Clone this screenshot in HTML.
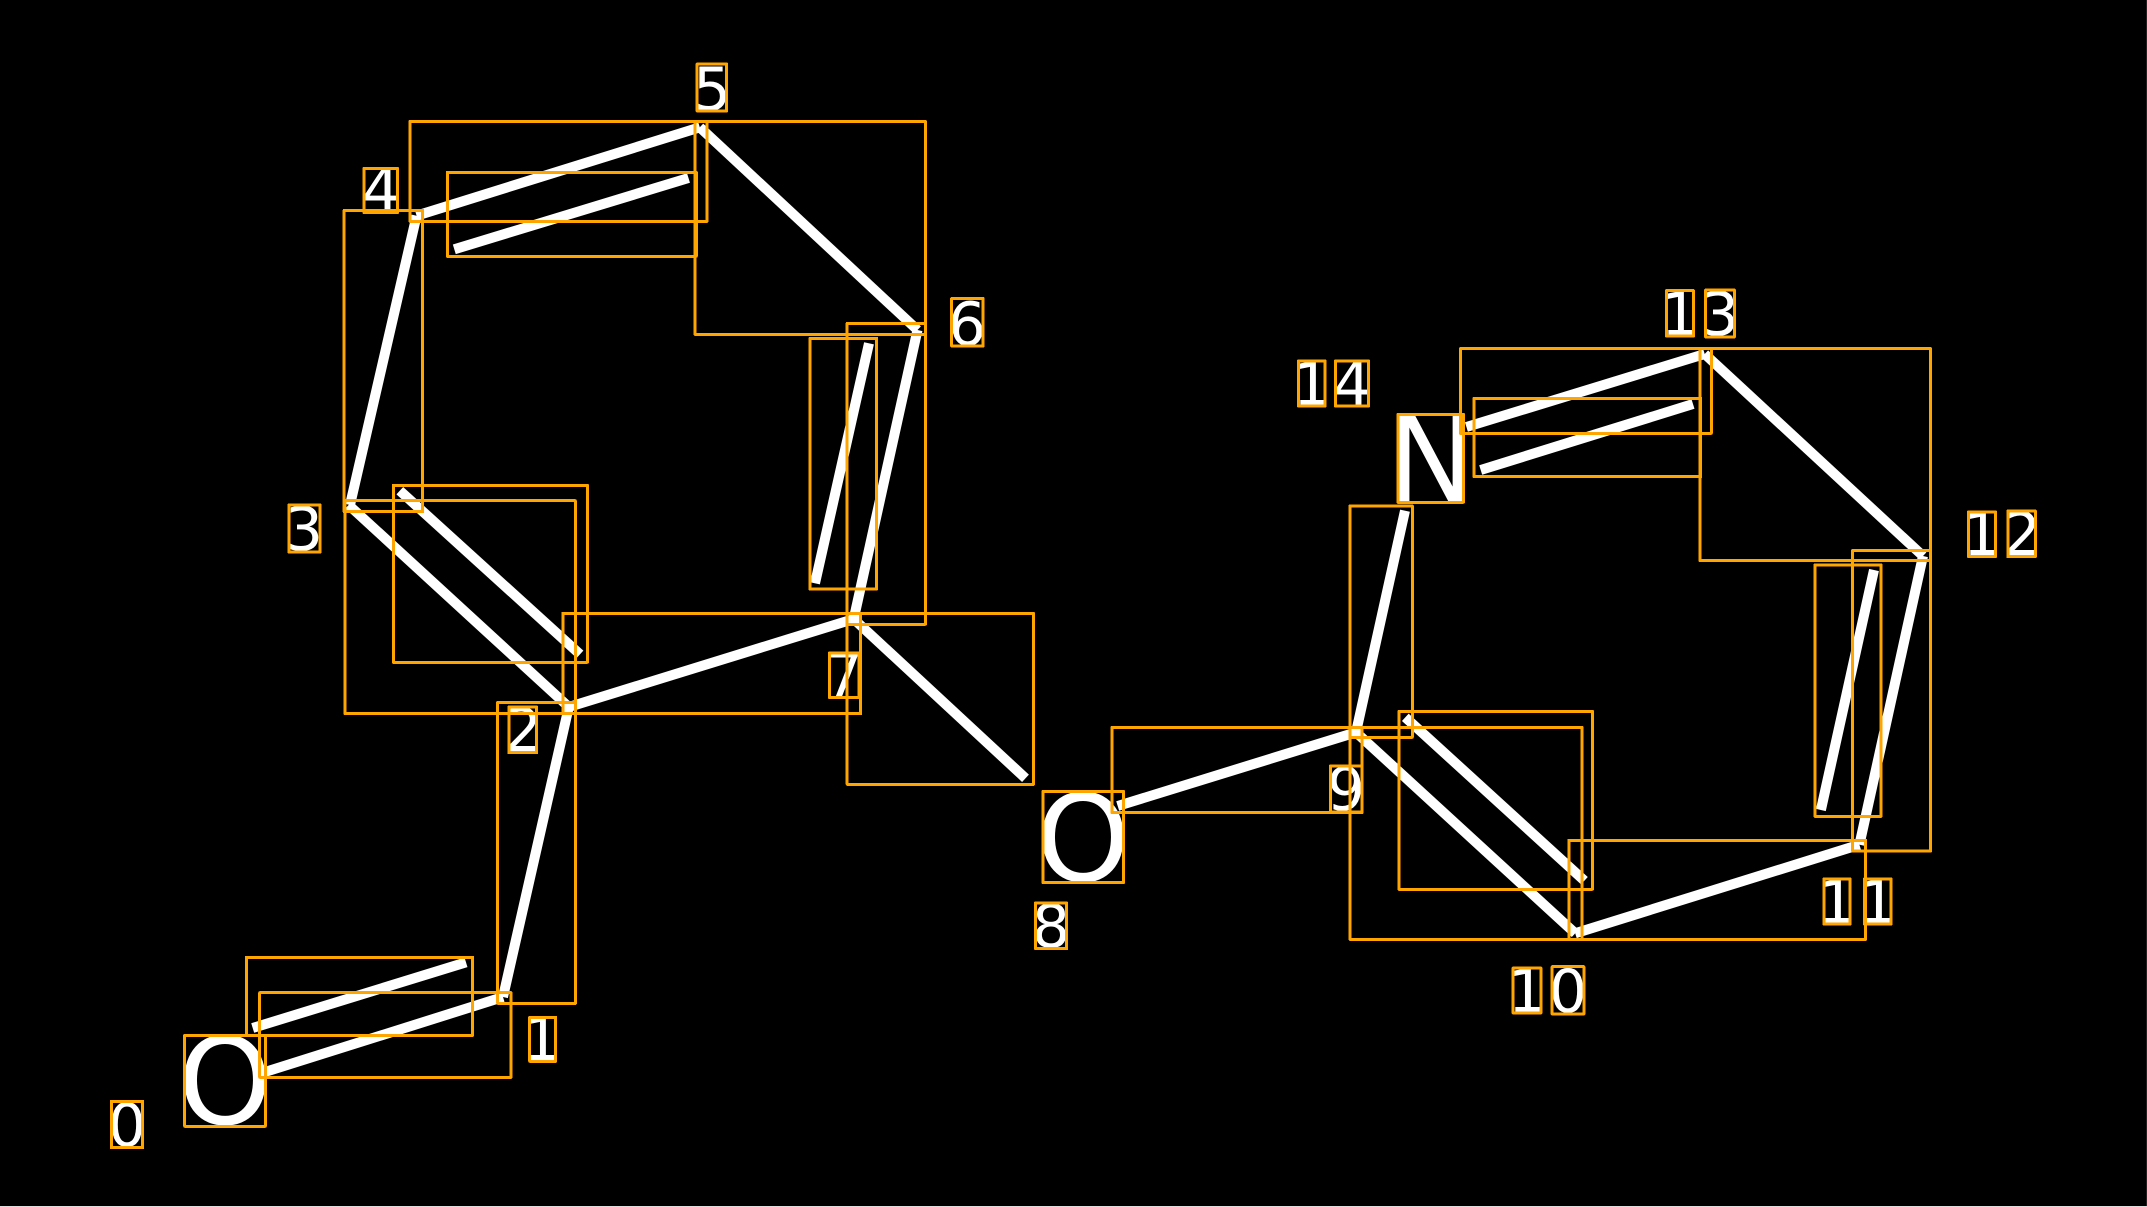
<!DOCTYPE html>
<html><head><meta charset="utf-8"><title>Molecule diagram</title>
<style>html,body{margin:0;padding:0;background:#000;width:2147px;height:1207px;overflow:hidden}svg{display:block}
text{font-family:"DejaVu Sans",sans-serif;fill:#fff;text-anchor:middle}
.a{font-size:120px}.d{font-size:60px}</style></head><body>
<svg width="2147" height="1207" viewBox="0 0 2147 1207" xmlns="http://www.w3.org/2000/svg">
<rect width="2147" height="1207" fill="#000"/>
<rect x="2146" y="0" width="1" height="1207" fill="#222"/>
<rect x="0" y="1206" width="2147" height="1" fill="#ddd"/>
<g stroke="#fff" stroke-width="10" fill="none" stroke-linecap="butt">
<line x1="265" y1="1072" x2="503" y2="997"/>
<line x1="252.7" y1="1028" x2="466" y2="962.3"/>
<line x1="503" y1="997" x2="568.8" y2="707"/>
<line x1="568.8" y1="707" x2="348.6" y2="505"/>
<line x1="399.8" y1="490.7" x2="580" y2="654.3"/>
<line x1="350" y1="505" x2="416.6" y2="215.7"/>
<line x1="416.6" y1="215.7" x2="699.8" y2="127.3"/>
<line x1="454.3" y1="249.3" x2="688.5" y2="178"/>
<line x1="699.8" y1="127.3" x2="917.5" y2="330"/>
<line x1="917.5" y1="330" x2="853.7" y2="619"/>
<line x1="815" y1="583.3" x2="869" y2="343.3"/>
<line x1="853.7" y1="619" x2="568.8" y2="707"/>
<line x1="853.7" y1="619" x2="1025.5" y2="778.3"/>
<line x1="1117.7" y1="806" x2="1356" y2="732.3"/>
<line x1="1356" y1="732.3" x2="1575.2" y2="933.3"/>
<line x1="1405.3" y1="717.3" x2="1584.4" y2="880.7"/>
<line x1="1575.2" y1="933.3" x2="1859.4" y2="844.7"/>
<line x1="1859.4" y1="844.7" x2="1923" y2="556"/>
<line x1="1820.9" y1="810" x2="1874" y2="570"/>
<line x1="1923" y1="556" x2="1704.7" y2="354"/>
<line x1="1704.7" y1="354" x2="1466.4" y2="427"/>
<line x1="1480.7" y1="470" x2="1693" y2="404"/>
<line x1="1405" y1="510.7" x2="1356" y2="732.3"/>
</g>
<text class="a" x="225" y="1124">O</text>
<text class="a" x="1083" y="881">O</text>
<text class="a" x="1431" y="501">N</text>
<text class="d" x="127" y="1146">0</text>
<text class="d" x="542" y="1060">1</text>
<text class="d" x="523" y="751">2</text>
<text class="d" x="304" y="550">3</text>
<text class="d" x="381" y="211">4</text>
<text class="d" x="712" y="110">5</text>
<text class="d" x="967" y="345">6</text>
<text class="d" x="844" y="696">7</text>
<text class="d" x="1051" y="947">8</text>
<text class="d" x="1346" y="810">9</text>
<text class="d" x="1527" y="1012">1</text><text class="d" x="1568" y="1012">0</text>
<text class="d" x="1837" y="923">1</text><text class="d" x="1878" y="923">1</text>
<text class="d" x="1982" y="555">1</text><text class="d" x="2022" y="555">2</text>
<text class="d" x="1680" y="335">1</text><text class="d" x="1720" y="335">3</text>
<text class="d" x="1312" y="405">1</text><text class="d" x="1352" y="405">4</text>
<g stroke="#ffa500" stroke-width="3" fill="none" stroke-linejoin="round" shape-rendering="crispEdges">
<rect x="246.3" y="957.3" width="226.4" height="78"/>
<rect x="259.7" y="992.7" width="251.3" height="84.6"/>
<rect x="184.7" y="1035.3" width="80.6" height="91"/>
<rect x="111.3" y="1101.3" width="31.4" height="46.4"/>
<rect x="529.7" y="1017.3" width="26" height="44"/>
<rect x="497.7" y="702.3" width="77.8" height="301"/>
<rect x="344.9" y="500.7" width="230.4" height="212.8"/>
<rect x="562.8" y="613.3" width="297.9" height="100.4"/>
<rect x="393.3" y="485.3" width="194.1" height="177"/>
<rect x="847.2" y="613.3" width="186.3" height="171"/>
<rect x="847.2" y="323.3" width="78.2" height="301"/>
<rect x="810" y="338.3" width="66.7" height="250.7"/>
<rect x="508.8" y="707" width="27.9" height="45.7"/>
<rect x="829.5" y="653" width="29.4" height="44.7"/>
<rect x="697.2" y="64" width="29.5" height="47"/>
<rect x="364" y="168.3" width="33.5" height="44.4"/>
<rect x="410" y="121.3" width="297" height="100"/>
<rect x="695" y="121.3" width="230.3" height="213"/>
<rect x="447.4" y="172.3" width="248.9" height="84"/>
<rect x="344.2" y="210.3" width="78.5" height="301.4"/>
<rect x="951.7" y="298.5" width="31.3" height="47.5"/>
<rect x="289" y="505" width="31" height="47"/>
<rect x="1666.4" y="290.7" width="27.1" height="45.3"/>
<rect x="1705.7" y="290" width="28.6" height="47"/>
<rect x="1298.6" y="361" width="26.4" height="45"/>
<rect x="1335.3" y="361" width="33.2" height="45"/>
<rect x="1398" y="414.3" width="65.4" height="88"/>
<rect x="1460.3" y="348.7" width="251" height="84.6"/>
<rect x="1700" y="348.7" width="230.7" height="212"/>
<rect x="1474" y="398.3" width="226.6" height="78.4"/>
<rect x="1852.7" y="550.3" width="78" height="300.7"/>
<rect x="1815" y="565" width="66" height="251.3"/>
<rect x="1350" y="506" width="62.3" height="231.3"/>
<rect x="1968.5" y="512" width="27" height="44.7"/>
<rect x="2007.8" y="511" width="27.5" height="45.7"/>
<rect x="1043" y="791.3" width="80.4" height="91.4"/>
<rect x="1035.6" y="903" width="31" height="45.7"/>
<rect x="1330.6" y="766" width="31.4" height="46"/>
<rect x="1112" y="727.3" width="250" height="85.4"/>
<rect x="1350" y="727.3" width="232" height="212"/>
<rect x="1399" y="711.3" width="193.4" height="178"/>
<rect x="1568.9" y="840.3" width="296.8" height="99"/>
<rect x="1513.2" y="968" width="27.6" height="45"/>
<rect x="1552.2" y="966.7" width="31.6" height="47.3"/>
<rect x="1823.8" y="879" width="26.2" height="45"/>
<rect x="1864.5" y="879" width="26.5" height="45"/>
</g>
</svg>
</body></html>
